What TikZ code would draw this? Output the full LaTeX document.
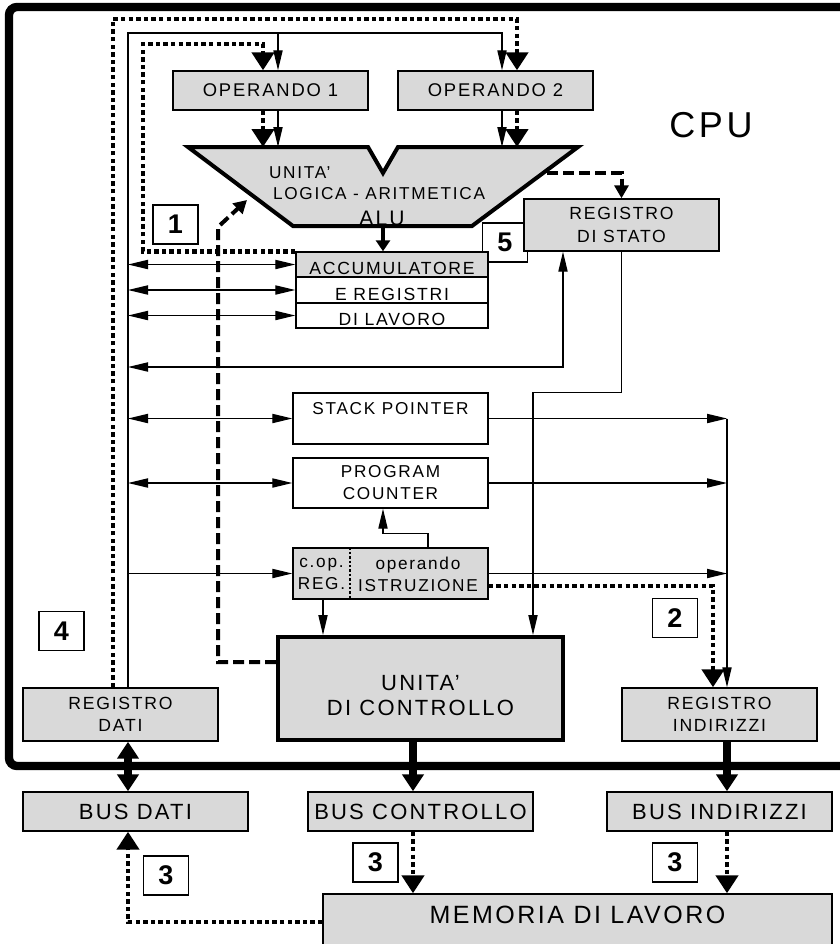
\documentclass[tikz,border=0pt]{standalone}
\usepackage{fontspec}
\setmainfont{Liberation Sans}[LetterSpace=10]
\usetikzlibrary{arrows.meta, positioning, calc}
\definecolor{boxgray}{RGB}{217,217,217}

\begin{document}
\begin{tikzpicture}[
  x=0.5pt, y=-0.5pt,
  wire/.style={line width=0.65pt},
  ar/.style={-{Triangle[length=10pt, width=4.6pt]}},
  dar/.style={{Triangle[length=10pt, width=4.6pt]}-{Triangle[length=10pt, width=4.6pt]}},
  dots/.style={line width=2.2pt, dash pattern=on 2.2pt off 1.6pt, -{Triangle[length=9pt, width=11pt]}},
  dashline/.style={line width=2pt, dash pattern=on 5.5pt off 2.5pt, -{Triangle[length=6.5pt, width=7pt]}},
  busline/.style={line width=4pt, -{Triangle[length=8.5pt, width=10.5pt]}},
  gbox/.style={draw, line width=0.7pt, fill=boxgray, inner sep=0pt, align=center, minimum width=97.5pt, font=\fontsize{8.8}{11.2}\selectfont},
  wbox/.style={gbox, fill=white},
  busbox/.style={gbox, minimum width=112.5pt, minimum height=19.5pt, font=\fontsize{11}{12.5}\selectfont},
  rowbox/.style={gbox, minimum width=96pt, text height=10pt, text depth=0pt},
  numbox/.style={draw, line width=0.7pt, fill=white, inner sep=0pt, minimum width=22.5pt, minimum height=19.5pt, font=\bfseries\fontsize{13.5}{13.5}\selectfont}
]
  \useasboundingbox (0,0) rectangle (840,944);
  \draw[line width=4.2pt, rounded corners=4pt] (880,7) -- (9,7) -- (9,766) -- (880,766);

  \node[numbox] (n5) at (505,242.5) {5};
  \node[gbox, minimum height=19.5pt, font=\fontsize{9.2}{11}\selectfont] (op1) at (270.5,90.5) {OPERANDO 1};
  \node[gbox, minimum height=19.5pt, font=\fontsize{9.2}{11}\selectfont] (op2) at (495.5,90.5) {OPERANDO 2};
  \draw[line width=2pt, fill=boxgray] (188,147) -- (368,147) -- (383,173) -- (398,147) -- (578,147) -- (472,226) -- (293,226) -- cycle;
  \node[align=left, anchor=west, font=\fontsize{8.6}{10.5}\selectfont] (alutxt) at (262,183) {UNITA’\\\hspace{2pt}LOGICA - ARITMETICA};
  \node[anchor=base, font=\fontsize{10.5}{12}\selectfont] (alulbl) at (382,225) {ALU};
  \node[font=\fontsize{18}{20}\selectfont] (cpu) at (711,125) {CPU};
  \node[gbox, minimum height=26pt] (stato) at (621.5,225) {REGISTRO\\DI STATO};
  \node[rowbox, minimum height=12.5pt] (acc) at (392,264.5) {ACCUMULATORE};
  \node[rowbox, fill=white, minimum height=13pt] (regs) at (392,290) {E REGISTRI};
  \node[rowbox, fill=white, minimum height=12.5pt] (lav) at (392,315.5) {DI LAVORO};
  \node[wbox, minimum height=25.5pt, font=\fontsize{8.6}{10.5}\selectfont] (sp) at (390.5,418.5) {STACK POINTER\\\mbox{}};
  \node[wbox, minimum height=25pt, font=\fontsize{8.6}{11}\selectfont] (pc) at (390.5,483) {PROGRAM\\COUNTER};
  \node[gbox, minimum height=25.5pt] (ir) at (390.5,573.5) {};
  \node[align=center, inner sep=0pt, font=\fontsize{8.6}{11}\selectfont] (irop) at (321.5,574) {c.op.\\REG.};
  \node[align=center, inner sep=0pt, font=\fontsize{8.6}{11}\selectfont] (irarg) at (418,574) {operando\\ISTRUZIONE};
  \node[gbox, line width=2pt, minimum width=142.5pt, minimum height=51.5pt, font=\fontsize{11}{12.5}\selectfont] (cu) at (420.5,688.5) {\rule{0pt}{15pt}UNITA’\\DI CONTROLLO};
  \node[gbox, minimum height=26.5pt] (rdati) at (120.5,714.5) {REGISTRO\\DATI};
  \node[gbox, minimum height=26.5pt] (rind) at (719.5,714.5) {REGISTRO\\INDIRIZZI};
  \node[busbox] (bdati) at (135.5,811.5) {BUS DATI};
  \node[busbox] (bctrl) at (420.5,811.5) {BUS CONTROLLO};
  \node[busbox] (bind) at (719.5,811.5) {BUS INDIRIZZI};
  \node[gbox, minimum width=254.5pt, minimum height=40.5pt, text height=14.8pt, text depth=25.7pt, font=\fontsize{12.5}{14}\selectfont] (mem) at (577.5,934.5) {MEMORIA DI LAVORO};

  \node[numbox] (n1) at (175.5,224.5) {1};
  \node[numbox] (n2) at (675,618) {2};
  \node[numbox] (n4) at (61.5,631) {4};
  \node[numbox] (n3a) at (166,875.5) {3};
  \node[numbox] (n3b) at (375.5,862.5) {3};
  \node[numbox] (n3c) at (675,862.5) {3};

  \coordinate (dtop) at (128,33);
  \coordinate (dotA) at (113,19);
  \coordinate (dotB) at (143,44);
  \coordinate (ctl) at (218,227);
  \coordinate (flagrow) at (128,367);
  \coordinate (alutop) at (383,147);
  \coordinate (alubot) at (383,226);
  \coordinate (aluflag) at (547,173);
  \coordinate (aluin) at (247,200);
  \coordinate (op1a) at ([xshift=3.75pt]op1.south);
  \coordinate (op1b) at ([xshift=-3.75pt]op1.south);
  \coordinate (op2a) at ([xshift=3.25pt]op2.south);
  \coordinate (op2b) at ([xshift=10.75pt]op2.south);
  \coordinate (cuin) at ([xshift=56.25pt]cu.north);
  \coordinate (rindin) at ([xshift=3.75pt]rind.north);
  \coordinate (irout) at ([xshift=-33.75pt]ir.south);
  \coordinate (m1) at ([xshift=-3.75pt]bctrl.south);
  \coordinate (m2) at ([xshift=3.75pt]bind.south);

  \draw[line width=0.6pt, dash pattern=on 1.2pt off 1pt] ([xshift=-20.25pt]ir.north) -- ([xshift=-20.25pt]ir.south);

  \draw[wire, ar] (rdati.north -| dtop) -- (dtop) -| ([xshift=3.25pt]op2.north);
  \draw[wire, ar] (dtop -| op1a) -- ([xshift=3.75pt]op1.north);
  \draw[dots] ([xshift=-3.75pt]rdati.north) -- (dotA) -| ([xshift=10.75pt]op2.north);
  \draw[dots] (acc.north west) -| (dotB) -| ([xshift=-3.75pt]op1.north);
  \draw[wire, ar] (op1a) -- (op1a |- alutop);
  \draw[dots] (op1b) -- (op1b |- alutop);
  \draw[wire, ar] (op2a) -- (op2a |- alutop);
  \draw[dots] (op2b) -- (op2b |- alutop);
  \draw[line width=2pt, -{Triangle[length=5.5pt, width=7pt]}] (alubot) -- (alubot |- acc.north);
  \draw[dashline] (aluflag) -| (stato.north);
  \draw[dashline] ([yshift=13.25pt]cu.west) -| (ctl) -- (aluin);

  \draw[wire, dar] (acc.west -| dtop) -- (acc.west);
  \draw[wire, dar] (regs.west -| dtop) -- (regs.west);
  \draw[wire, dar] (lav.west -| dtop) -- (lav.west);
  \draw[wire, dar] (flagrow) -| ([xshift=-29.25pt]stato.south);
  \draw[wire, ar] (stato.south) |- (sp.north -| cuin) -- (cuin);
  \draw[wire, dar] (sp.west -| dtop) -- (sp.west);
  \draw[wire, dar] (pc.west -| dtop) -- (pc.west);
  \draw[wire, ar] (ir.west -| dtop) -- (ir.west);
  \draw[wire, ar] (sp.east) -- (sp.east -| rindin);
  \draw[wire, ar] (pc.east) -- (pc.east -| rindin);
  \draw[wire, ar] (ir.east) -- (ir.east -| rindin);
  \draw[wire, ar] (sp.east -| rindin) -- (rindin);
  \draw[wire, ar] ([xshift=18.75pt]ir.north) -- ++(0,-14) -| ([xshift=-3.75pt]pc.south);
  \draw[wire, ar] (irout) -- (irout |- cu.north);
  \draw[dots] ([yshift=-6.25pt]ir.east) -| ([xshift=-3.25pt]rind.north);

  \draw[busline, {Triangle[length=8.5pt, width=10.5pt]}-{Triangle[length=8.5pt, width=10.5pt]}] ([xshift=3.75pt]rdati.south) -- ([xshift=-3.75pt]bdati.north);
  \draw[busline] ([xshift=-3.75pt]cu.south) -- ([xshift=-3.75pt]bctrl.north);
  \draw[busline] ([xshift=3.75pt]rind.south) -- ([xshift=3.75pt]bind.north);
  \draw[dots] (m1) -- (m1 |- mem.north);
  \draw[dots] (m2) -- (m2 |- mem.north);
  \draw[dots] ([yshift=6.25pt]mem.west) -| ([xshift=-3.75pt]bdati.south);
\end{tikzpicture}
\end{document}
